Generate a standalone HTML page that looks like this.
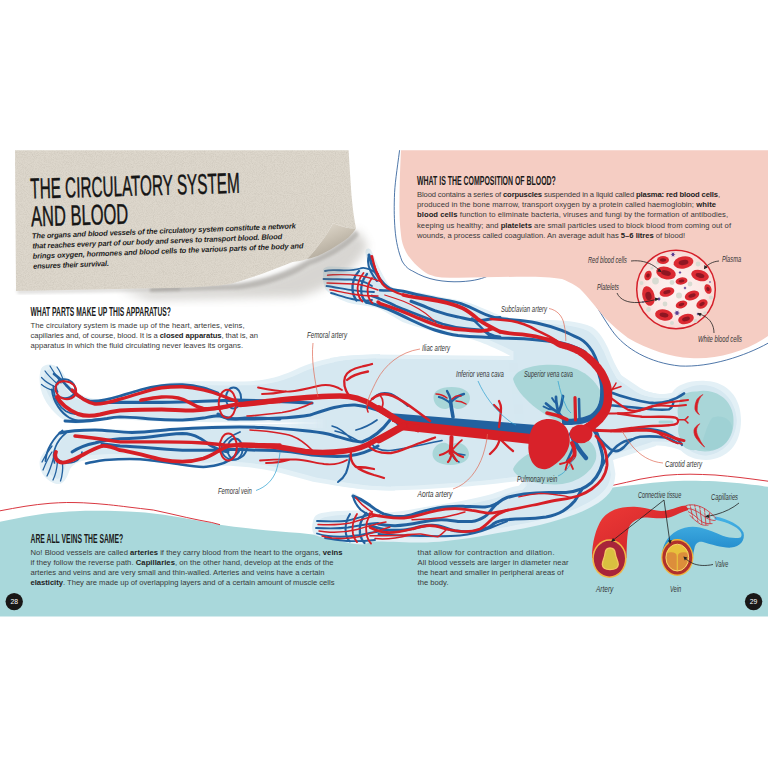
<!DOCTYPE html>
<html><head><meta charset="utf-8"><title>The Circulatory System and Blood</title>
<style>
html,body{margin:0;padding:0;background:#fff;}
body{width:768px;height:768px;overflow:hidden;position:relative;font-family:"Liberation Sans",sans-serif;}
svg{position:absolute;left:0;top:0;display:block;}
text{font-family:"Liberation Sans",sans-serif;}
.bt{font-size:7.65px;fill:#3a3a3a;}
.bt tspan.b{font-weight:bold;fill:#1d1d1d;}
.hd{font-size:13px;fill:#1a1a1a;font-weight:bold;}
.lb{font-size:8.5px;fill:#333;font-style:italic;}
.ar{fill:none;stroke:#d61f26;stroke-linecap:round;stroke-linejoin:round;}
.ve{fill:none;stroke:#22619f;stroke-linecap:round;stroke-linejoin:round;}
</style></head><body>
<svg width="768" height="768" viewBox="0 0 768 768">
<defs>
<filter id="grain" x="0" y="0" width="100%" height="100%"><feTurbulence type="fractalNoise" baseFrequency="1.1" numOctaves="2" seed="7" result="n"/><feColorMatrix type="matrix" values="0 0 0 0 0.25  0 0 0 0 0.22  0 0 0 0 0.18  0 0 0 -1.5 0.95"/><feComposite in2="SourceGraphic" operator="in"/></filter>
<filter id="blur6"><feGaussianBlur stdDeviation="5"/></filter>
<filter id="blur2"><feGaussianBlur stdDeviation="1.6"/></filter>
<linearGradient id="curl" x1="0.2" y1="0" x2="0.8" y2="1"><stop offset="0" stop-color="#e2dcd1"/><stop offset="0.4" stop-color="#cbc3b5"/><stop offset="1" stop-color="#a39b8d"/></linearGradient>
</defs>
<rect width="768" height="768" fill="#fff"/>
<!-- pink blob -->
<path d="M399.6,150.2 C397,170 394.6,185 394.4,197.5 C394,210 394.3,220 395,229 C396,242 398.5,252 402,261 C405.5,267 409,269.5 412.5,271 C420,275.5 428,278.5 436,280 C444,281.5 452,282 460,281.7 C475,281 483,278.5 490,275 C530,272 555,273 572,279 C588,286.5 596,308 612,330.5 C625,349 650,363 680,366 C710,367.5 745,356 768,343.2" fill="none" stroke="#2f5f9a" stroke-width="0.85"/>
<path d="M401,150.2 L768,150.2 L768,336 C745,352 715,360 690,358 C672,357.6 648,349.5 628,338 C619,331 612,325 606,319 C600,312 595,306 590,300 C585,294 581,289 576,286 C571,283 566,280.5 562,279 C535,274 480,279 441.7,277.5 C432,276.5 426,273.5 422,270 C417.5,266.5 415,264 412.5,261 C409.5,257.5 407.5,255 406,252 C403,246 401.5,241 401,235 C399.5,222 399.2,210 399.5,200 C399.6,185 400.2,165 401,150.2 Z" fill="#f5cdc3"/>
<!-- teal bottom -->
<path d="M0,521.7 C8,520 17,518.3 25,516.7 C33,515.2 42,514 50,513 C58,512.1 67,511.5 75,511.2 C83,510.9 92,510.7 100,510.8 C110,510.9 120,511.2 128,511.5 C134,511.8 140,512.1 145,512.5 C153,513.3 162,514.5 170,515.8 C178,517.1 187,518.6 195,520 C203,521.5 212,523.2 220,524.7 C229,526.2 239,527.4 248,528.3 C265,530.2 283,531.8 300,533 L317,535 L400,530 L500,515 L570,498 L607,488.5 L612.7,487.5 C622,486.2 631,485.2 640,484.2 C648,483.2 657,482.3 665,481.7 C673,481.2 682,480.8 690,480.8 C698,480.8 707,481 715,481.3 C723,481.8 732,482.5 740,483.3 C749,484.3 759,485.5 768,486.7 L768,616.4 L0,616.4 Z" fill="#a9d8db"/>
<path d="M0,510.8 C8,509.2 17,507.7 25,506.3 C33,505 42,504 50,503.3 C56,502.9 61,502.6 66.7,502.5 C72,502.5 78,502.6 83.3,502.8 C92,503.2 100,503.9 108.3,504.7 C115,505.4 122,506.2 128,507 C136,508 145,509 153.3,510 C164,512.3 176,515 186.7,517.5 C195,519.3 203,521 211.7,522.5 L220,524.7" fill="none" stroke="#d5202a" stroke-width="0.9"/>
<path d="M612.7,485.4 C622,483.4 631,481.2 640,479.2 C648,477.7 657,476.3 665,475.3 C673,474.6 682,474.2 690,474.2 C698,474.3 707,474.6 715,475 C723,475.7 732,476.6 740,477.5 C749,478.6 759,479.9 768,481.2" fill="none" stroke="#d5202a" stroke-width="0.9"/>
<!-- body silhouette -->
<defs><g id="bodyShape">
<!-- upper leg + foot -->
<path d="M41,369 C44,363 56,362 63,373 C68,382 72,389 80,394 C90,400 100,400 112,397 C130,392 150,385 175,382 C200,380 240,383 262,380 C280,377 290,372 300,367.5 C315,361 330,358 345,356 L380,354 L380,425 L325,423.5 C300,422.5 250,423 212,422.5 C190,422 165,422 145,421 C130,420 118,419 107,419.5 C95,420 88,422 82,423 C75,425 68,423 60,417.5 C52,411 47,404 44,398 C40,390 38,378 41,369 Z"/>
<!-- lower leg + foot -->
<path d="M62,430 C75,429 85,429 95,429 C110,429 130,430.5 145,430 C170,429 190,426 212,425 C250,424 300,424 325,423 L395,423 L395,490.5 C375,490.5 360,489.5 345,487 C333,485 323,483.5 313,481.7 C298,478 285,473.5 272,471 C257,468 243,466.5 230,465.8 C222,465.6 217,466.5 212,466.8 C195,467.5 175,465 157,462.5 C140,460 130,458 120,458 C105,458 92,459 82,461 C75,463 72,466 70,469 C68,475 66,480 62,483 C57,486 50,482 45,477 C40,472 38,463 41,457 C44,451 49,447 52,444 C56,440 58,434 62,430 Z"/>
<!-- torso -->
<path d="M330,358 C345,355 360,354.5 375,354.5 L512,356 L600,340 L621,375 L644,390.6 L656,393.7 L656,446 L613,460 L609,487 L517,481 C512,482 508,482 505,482.5 C485,485 468,486.5 450,487.5 C430,489 410,490 390,490.5 C370,490.5 350,488 330,484 Z"/>
<!-- upper arm + hand -->
<path d="M323,272 C322,268 326,266 332,266.5 L369.5,268.3 C368,263 366,257 365.4,252.5 C365.4,248.3 369,247.3 371.2,250.5 C375,258 379,268 384,277 C386,281 388,284 390,286 C398,291 415,291 432,295 C445,298 455,299 466,302 C480,306 490,312 502,316 C515,320 530,320.5 545,320 C560,320 580,321 592,327 C600,332 604,340 608,348 C612,358 616,367 621,375 C624,378.5 628,381 631.7,383.3 C636,386.5 640,389 644,390.6 C648,392 652,393.2 656.7,393.75 L656.7,420 L520,420 L512,357 C500,350 490,346 480,342 C470,338 460,337 450,335 C435,332 420,328 402.5,322 C395,318 385,311 377.5,308 C365,305 355,305 347.5,302.5 C338,299 330,294 326,290 C323,285 323,278 323,272 Z"/>
<!-- lower arm + hand -->
<path d="M314,518 C316,514 320,513 325,512.5 C335,511 345,510.3 358,510.6 C361,510.7 363,510.2 363,509 C359.5,505 354.5,500 351.5,496 C350.5,493.3 353.2,492.2 356,494.3 C361,499 368,505.5 374,509.5 C377,511.5 380,512.3 382.5,512.5 C395,512.5 410,510 425,507 C450,503 475,499 492,494 C502,490.5 510,487 518.8,485.8 L560,440 L650,440 C640,446 625,452 613,460 C614,465 615,470 615.4,474 C615,480 614,485 612,489 C609,494.5 604,499 598.5,502.7 C591,507.5 583,511.5 574.7,514.6 C564,518.5 552,522 540.8,524.7 C530,527.3 518,529.5 507,531.5 C495,533.6 482,536 470,538 C455,540 437,542.5 420.8,542.6 C405,542.6 385,541 372,541.5 C368,543 365,544.5 362.5,544.5 C352,544 345,542 337.5,540.5 C328,539 320,537 314.5,535 C311,531 312,523 314,518 Z"/>
<!-- neck + head -->
<path d="M640,388 C646,391.5 652,393.5 660,394 C665,394 668,393.5 672,392.7 C677,384.5 690,380 706,381 C728,382 741,398 741,420 C741,444 728,459 706,460 C695,460 686,456 681,450.5 C672,446 660,445 651,445.5 L640,448 Z"/>
</g><filter id="erode" x="-2%" y="-2%" width="104%" height="104%"><feMorphology operator="erode" radius="4.2"/><feGaussianBlur stdDeviation="0.7"/></filter></defs>
<use href="#bodyShape" fill="#e3f0f6"/>
<g filter="url(#erode)"><use href="#bodyShape" fill="#d6e8f1"/></g>
<!-- gap between legs -->
<path d="M62,429.5 C75,428 95,428 145,429 C190,428 212,424.5 250,423.5 L325,422.8 C250,422.6 200,422.8 145,421.5 C120,420.5 100,420 82,423.5 C74,426 68,428 62,429.5 Z" fill="#fff"/>
<!-- organs -->
<g fill="#a9d6d8">
<path d="M513,379 C516,368 540,362 566,366 C588,370 604,388 603,404 C602,414 596,420 588,421.5 L560,422 C545,416 518,398 513,379 Z"/>
<path d="M513,469 C515,477 530,484 555,484.5 C575,484.5 592,473 596,459 C597.5,451 594,444 588,440 L560,440 C545,446 520,454 513,469 Z"/>
<path d="M433.5,398 C433,391 440,387 451.5,387 C463,387 470.5,391.5 470,398.5 C469.5,405 463,409.5 457,409 C454.5,408.8 453.5,406.5 451.5,406.5 C449.5,406.5 448.5,408.8 446,409 C440,409.5 434,405 433.5,398 Z"/>
<path d="M432.5,453.5 C432,460 439,465 450.5,465 C462,465 469.5,460 469,453.5 C468.5,447 462,442.2 456,442.8 C453.5,443 452.5,445.3 450.5,445.3 C448.5,445.3 447.5,443 445,442.8 C439,442.2 433,447 432.5,453.5 Z"/>
<path d="M679,404 C678,396 686,391 697,391.5 C704,390 714,391 721,396 C729,401 734,411 733.5,421 C734,432 729,442 721,447 C713,452 703,452.5 696,450 C687,451 680,446 680,438 C677,432 678,426 680,421 C677,415 677,409 679,404 Z"/>
<rect x="658.5" y="420.4" width="15" height="3.2" rx="1.6"/>
</g>
<path id="brainDark" d="M712,418 C720,414 730,418 732,426 C733,434 727,444 719,448 C712,451 704,451 700,447 C704,440 706,426 712,418 Z" fill="#98cdd1" opacity="0.55"/>
<!-- ===== veins (blue) first ===== -->
<g class="ve">
<!-- vena cava -->
<path d="M385.5,412.8 L540,425.3 L540,437 L398,426 Z" fill="#22619f" stroke="none"/>
<!-- iliac veins -->
<path d="M388,414 C378,410 368,406 355,405 C340,404.5 325,410 310,415 C295,418 255,419.5 237,419 C228,418.5 222,417 218,414" stroke-width="2.99"/>
<path d="M390,420 C384,428 376,437 362,442 C352,442 340,437 328,434 C312,430.5 290,429 262,427.5 C245,426.5 225,427 212,427.5 C195,428 182,429 170,429.5 C155,431 145,432.5 132,432.5 C118,432 105,430 95,430 C80,430 68,431 60,433" stroke-width="2.99"/>
<!-- upper leg veins -->
<path d="M312,403 C290,402 260,400.5 236.7,400.2 C225,400.6 214,401 203.3,401.25 C190,401.8 175,402.3 161.7,402.3 C148,402.3 134,402.3 120,402.3 C110,402.4 100,402.5 92,402.5" stroke-width="3.2"/>
<path d="M218,393 C213,391 208,389 203.3,387.7 C196,385.8 189,384.8 182.5,384.6 C175,384.5 168,384.8 161.7,385.6 C154,386.6 147,388 140.8,389.8 C133,392 126,394.2 120,396 C110,399 100,401.8 90,401 C80,399 72,392 66,385 C62,380 58,377 54,374" stroke-width="2.7"/>
<path d="M65,421 C80,422.5 95,420.5 107,418.5 C112,417.5 116,417 120,416.9 C131,417 141,418.2 151.25,419 C161,419.7 172,420.2 182.5,420 C190,419.7 197,419 203.3,418 C208,417.2 213,416 218,415.8 C222,416 225,418 228.3,419 C234,419.6 240,418.3 245,418 C256,417.8 268,418.5 280,419" stroke-width="2.9"/>
<ellipse cx="233.5" cy="398" rx="7.6" ry="10.5" stroke-width="1.9"/>
<!-- lower leg veins -->
<path d="M378,446 C368,452 358,455 348,456 C335,457 322,456 312,455 C300,453 288,451 275,450.5 C262,450.5 250,450 236.7,449.2 C229,449.6 221,450.2 213.75,450.2 C203,450.4 192,450.4 182.5,450.2 C172,449.8 161,449 151.25,448 C141,447.2 130,446.4 120,446 C113,445.3 107,444.5 102,444" stroke-width="3"/>
<path d="M228,452 C222,451 216,448.5 209.6,445 C206,442 203,439.6 199,437.7 C194,435 188,433.6 182.5,433.5 C172,433.8 161,435.3 151.25,436.7 C141,438 130,438.5 120,438.75 C110,439.5 100,441.5 95,443 C85,445 78,448 72,452" stroke-width="2.9"/>
<path d="M240,432 C230,436 225,440 222,446 C220,452 224,458 232,460 C240,460 246,455 247,448" stroke-width="1.84"/>
<path d="M238.75,451.25 C236.5,454.5 233.5,457.5 230.4,459.6 C226.5,462 222,464 218,464.8 C213,466 208,466.9 203.3,466.9 C194,466.5 185,465 176,463.75 C165,462 150,460 140,459.2 C128,458.5 118,459 105,460 C98,461 92,462 86,463.5" stroke-width="2.5"/>
<ellipse cx="235" cy="449" rx="7.6" ry="10.5" stroke-width="1.9"/>
<path d="M373,399 C377,393 384,391.5 391,394 C397,396.5 402,401 408,406" stroke-width="1.9"/>
<path d="M371,443 C375,449 382,451 390,450.5 C402,449.5 420,445 442,440.5" stroke-width="1.7"/>
<!-- feet veins -->
<path d="M51.9,389.4 C52.5,396 55,402 58.1,406.6 C61,411 65,415 69,417.5 C73,419.8 77,420.6 81.6,420.6 C88,420.4 94,419.6 100.3,419" stroke-width="2"/>
<path d="M53.4,386.25 C53.5,392 55,397.5 57.3,401.9 C59.5,406 62.5,409 66,411.25 C69.5,413.3 73,414.2 76.9,414.4 C82,414.8 87,415 92.5,415" stroke-width="1.8"/>
<path d="M61,383 C57,377 53,371 50,366 M58,384.5 C53,380 48,375.5 45,371 M55.5,387 C50,384.5 45,381.5 41.5,377.5 M54,390.5 C49,389.5 45,387.5 41.5,384.5 M64,382 C62,376 60,371 57,367" stroke-width="1.2"/>
<path d="M57.5,392 C54.5,386 56.5,380 63,379.2 C70,378.6 76,384 75,391 C74,396.5 67,399.5 61,397.5" stroke-width="1.9"/>
<path d="M62.5,430.5 C58,434 54,439 51,444 C48,449 46,455 45.5,461" stroke-width="1.9"/>
<path d="M66,433 C61,437 57.5,442 55.5,447 C53.5,452 53,458 54.5,463" stroke-width="1.7"/>
<path d="M52,446 C48,451 44.5,457 42,462 M52,452 C48,458 45,465 43,470 M53.5,458 C51.5,465 49.5,471 47,476 M57.5,461.5 C57,468 55.5,475 53,480 M62.5,463 C63,469 62.5,475 60.5,481" stroke-width="1.3"/>
<path d="M55,456 C59,462 67,464.5 74,462 C79,460 82,456 82,452" stroke-width="1.7"/>
<!-- upper arm veins -->
<path d="M369,255 C371,264 376,276 384,284 C388,288 392,290 396,290.3 C405,291 412,293.5 419,295 C428,297 435,298.5 442.5,299.7 C450,301 456,302 461,303.6 C468,306 474,309 480,312 C487,315.5 493,317.5 500,318.4 C505,319 509,319.8 513.75,320 C522,320.5 530,321.5 536.7,323 C546,325 554,327.5 561.7,330.4 C568,333 574,336 580,338.75 C585,341.5 589,346 592.5,351.5 C594.5,355 596,358.5 597.5,363" stroke-width="3"/>
<path d="M411,301.25 C419,304 427,307.5 434.7,310.6 C443,313.5 450,315.5 458,316.9 C465,318.5 471,320.2 477,320.8 C482,321 486,320 489.4,319.2 C493,318.3 497,317.8 500,317.6" stroke-width="3"/>
<path d="M372,296 C376,297 378,298 380,299 C386,301.5 391,303.5 395.6,306 C404,309.5 412,312.5 419,315.3 C427,318.5 435,321.5 442.5,324 C451,326.5 459,328 466,328.6 C472,329.3 477,329.6 481.5,330 C485,331 487,332.5 489.4,334 C493,336 497,336.8 500,337" stroke-width="2.8"/>
<path d="M366,302 C374,304 381,306.5 387.8,309 C396,312.5 404,316.5 411,320 C419,323.8 427,327.5 434.7,330 C443,332.5 451,334.5 458,335.6 C466,336.6 474,337 481.5,337 C488,337.2 494,337.6 500,338 C508,338.3 516,338.5 524,338.75 C532,339.3 539,340 545,340.8 C552,341.5 557,342.2 561.7,343 C570,345 578,348 585,352" stroke-width="3"/>
<path d="M472,318.4 C475,321.5 478.5,324.5 481.5,327.8 C484,330.5 487,333.5 489.4,335.6" stroke-width="2.4"/>
<path d="M380,290.3 C386,290.6 391,290.5 396,290.3" stroke-width="2.4"/>
<!-- upper hand veins -->
<path d="M378,274 C372,270 365,266 360,268.5 C352,271.5 340,270 333,270.2 C330,270.3 327,270.6 325,271" stroke-width="1.84"/>
<path d="M372,286 C366,282 358,279.5 350,279.5 C342,279.5 332,279 323.5,279" stroke-width="1.84"/>
<path d="M374,292 C366,291.5 358,291 350,289.8 C342,288.6 334,287 326.5,286" stroke-width="1.84"/>
<path d="M372,300 C366,301 358,300.5 352,299 C345,297.4 338,295 331,293" stroke-width="1.84"/>
<path d="M359,271 C354,276 352,284 352.5,290 C353,295 354.5,298 356.5,300.5" stroke-width="2.3"/>
<path d="M367,274 C362,280 360.5,288 361.5,294 C362.5,298 364,300.5 366.5,302.5" stroke-width="2.3"/>
<path d="M369,255 C367.5,260 368,266 370.5,271 C372.5,275 374.5,278 377,281" stroke-width="2.07"/>
<!-- lower arm veins -->
<path d="M593,428 C597,432 598.5,436 598.5,440 C600,446 602,451 602.7,457 C603,462 602,466.5 600,470.5 C598,475 595,479 591.7,482.4 C588.5,485 585,487.3 581.5,489 C576,491 571,492.2 566,492.5 C560,492.8 555,492.6 549,492.5 C540,492.5 532,493 524,494 C518,494.8 512,496 507,497.6 C503,499 500,501 497,503.5" stroke-width="3.2"/>
<path d="M497,503.5 C493,505.5 489,506.8 485,507 C478,507.3 470,506.5 463,506.2 C454,506 445,506.5 437.8,507.9 C431,509.3 426,510.5 420.8,512 C415,514 409,515.8 404,516.4 C397,517 390,516 383.5,513.8 C378,511.5 374,508.5 370,505.3 C365,501.5 359,498 353,496" stroke-width="3"/>
<path d="M497,503.5 C494,506 492,509 490,511.5 C488,514 487,515.5 485,516.4 C481,519 476,521 471.7,521.4 C467,521.8 462,521.6 458,521.4 C452,520.6 446,519.6 441,519.7 C434,520 427,521 420.8,522.3 C412,524 404,525.5 395.4,525.7 C389,525.8 383,525 378.5,524" stroke-width="3"/>
<path d="M581.5,490 C579,494 577,498 574.7,501 C571,505.5 567,508.5 563,511 C558,514 552,516 546,517 C539,518 531,518.6 524,518.8 C518,519 512,519.3 507,519.7 C501,520.3 497,521.5 494,523.5 C492,525 490.5,526.5 488.6,527.4 C483,529.8 477,531.2 471.7,531.6 C466,531.8 460,531.5 454.7,530.8 C448,529.5 443,526.5 437.8,525.7 C432,525 426,525.5 420.8,526.5 C415,527.8 409,529.5 404,530 C398,530.5 392,530.4 387,530 C381,529 375,527.5 370,525.7" stroke-width="3"/>
<path d="M507,521.4 C501,523.5 495,526 490,528 C480,532 470,534.5 460,535.5 C445,536.8 430,536 412,535.8 C400,535.6 388,534.8 378.5,534" stroke-width="2"/>
<!-- lower hand veins -->
<path d="M385,531 C375,531.5 365,534 356,535.5 C346,537 336,537 328,536 C324,535.5 320,534.5 317,533.5" stroke-width="1.84"/>
<path d="M378,523 C368,523.5 358,526 348,527.5 C338,528.7 328,528.5 316,528" stroke-width="1.84"/>
<path d="M372,514 C364,516 356,519 348,520.5 C338,522 328,521.5 317,521" stroke-width="1.84"/>
<path d="M375,540 C365,541 355,541.5 347,541 C339,540.4 332,539.4 325,538" stroke-width="1.84"/>
<path d="M366,513 C361,519 359,527 360,534 C361,538 362.5,541 364.5,543" stroke-width="2.3"/>
<path d="M350,514 C346,520 345,528 346,534 C346.8,537.5 348,540 350,541.5" stroke-width="2.07"/>
<path d="M353,496 C354,501 357,506 361,510 C364,512.5 367,514 370,515" stroke-width="2.07"/>
<!-- neck veins -->
<path d="M607,391 C612,393 622,396.5 631.7,399 C640,401 647,402.8 652.5,403 C659,403.2 664,402.5 669,401 C675,399 680,396.5 684,393.5" stroke-width="2.77"/>
<path d="M606,405 C614,405.5 623,406.5 631.7,407.3 C640,408 647,409 652.5,409.4 C659,409.8 664,410 669,409.4 C672,408 673,405 673.5,402" stroke-width="2.37"/>
<path d="M627.5,429 C635,428.5 642,428.5 648,428.8 C655,429.3 660,430.3 665,432.3 C670,434.5 674,437 677.5,439.6 C679.5,441.3 681,443 682,445" stroke-width="2.18"/>
<path d="M594,431 C598,438 604,444 610,449 C615,452.5 620,451 624,447 C628,442 632,438 640,436.8 C648,436 658,436.5 665,437.5 C670,438.5 674,440.5 677.5,443" stroke-width="2.57"/>
<path d="M600,470 C604,462 610,452 617,446 C622,442 627,440 632,439.5" stroke-width="2.57"/>
<!-- SVC inside arch + pulmonary veins -->
<path d="M593.4,358.4 L593.7,359.5 L594.1,361.0 L594.5,362.8 L595.0,364.7 L595.5,366.8 L596.0,368.8 L596.4,370.7 L596.9,372.4 L597.3,374.0 L597.7,375.4 L598.0,376.7 L598.4,378.0 L598.8,379.3 L599.1,380.5 L599.3,381.7 L599.5,382.9 L599.7,384.1 L599.9,385.4 L600.0,386.7 L600.1,388.0 L600.1,389.2 L600.1,390.5 L600.1,391.8 L600.1,393.0 L600.0,394.3 L600.0,395.5 L599.9,396.7 L599.7,398.0 L599.6,399.1 L599.4,400.3 L599.1,401.3 L598.9,402.4 L598.6,403.4 L598.2,404.3 L597.9,405.2 L597.5,406.1 L597.1,406.9 L596.6,407.7 L596.1,408.5 L595.6,409.3 L594.9,410.1 L594.3,410.9 L593.6,411.6 L592.9,412.3 L592.2,413.0 L591.4,413.6 L590.6,414.2 L589.6,414.7 L588.4,415.3 L587.1,415.8 L585.7,416.3 L584.2,416.8 L582.6,417.2 L580.9,417.6 L579.2,417.9 L577.6,418.2 L575.7,418.5 L573.6,418.6 L571.4,418.8 L569.1,418.8 L566.9,418.9 L564.9,418.9 L563.2,419.0 L561.9,419.0 L562.1,425.0 L563.3,425.0 L565.0,425.0 L567.0,425.0 L569.3,424.9 L571.6,424.9 L574.0,424.8 L576.3,424.6 L578.4,424.4 L580.4,424.0 L582.3,423.7 L584.1,423.2 L585.9,422.8 L587.7,422.2 L589.3,421.6 L590.9,421.0 L592.4,420.3 L593.8,419.5 L595.1,418.6 L596.2,417.7 L597.3,416.7 L598.2,415.7 L599.0,414.7 L599.7,413.7 L600.4,412.7 L601.1,411.7 L601.7,410.6 L602.3,409.5 L602.8,408.3 L603.2,407.2 L603.5,406.0 L603.9,404.8 L604.1,403.6 L604.4,402.3 L604.5,401.0 L604.6,399.7 L604.7,398.4 L604.8,397.0 L604.8,395.7 L604.7,394.3 L604.7,393.0 L604.6,391.7 L604.6,390.3 L604.5,389.0 L604.3,387.6 L604.2,386.2 L604.0,384.9 L603.7,383.5 L603.5,382.1 L603.1,380.8 L602.8,379.5 L602.4,378.2 L601.9,376.9 L601.5,375.6 L601.0,374.4 L600.6,373.0 L600.1,371.6 L599.7,369.9 L599.2,368.0 L598.7,366.0 L598.1,364.0 L597.7,362.0 L597.2,360.2 L596.8,358.7 L596.6,357.6 Z" fill="#22619f" stroke="none"/>
<path d="M568,421.5 C563,419 560,416 558.5,413" stroke-width="3.6"/>
<path d="M558.5,413 C554,410 550,407 546,403.5 M558.5,413 C557,407 556,402 556,397 M558.5,413 C561,407 562.5,401 563,396" stroke-width="2.76"/>
<path d="M553,409.5 C550,409.5 546.5,408.5 543.5,406.5 M557,404 C554.5,402 553,400 552,398" stroke-width="1.84"/>
<path d="M579.5,419 L579,399" stroke-width="2.53"/>
<path d="M571,434 C574,442 579,450 586,458" stroke-width="4.4"/>
<path d="M573,448 C571,453 569,457 567,461" stroke-width="2.3"/>
<!-- kidney veins -->
<path d="M453,417 C452,411 451,406 450.5,401" stroke-width="3.6"/>
<path d="M451,404 C447,400 443,398 439,397 M451,402 C455,398 459,395 464,394 M451,401 C450,397 449,394 447,391" stroke-width="2.3"/>
<path d="M453,452 C457,454 461,455 465,455 M452,455 C454,459 456,461 459,462" stroke-width="1.49"/>
<!-- thigh small veins -->
<path d="M350,457 C349,463 348,468 346,473 C344,477 341,480 338,482" stroke-width="2.07"/>
<path d="M360,442 C350,436 342,432 335,431 M352,440 C346,433 340,428 332,426" stroke-width="1.49"/>
<path d="M377,420 C370,425 364,428 356,430" stroke-width="1.72"/>
</g>
<!-- ===== arteries (red) ===== -->
<g class="ar">
<!-- aorta -->
<path d="M400,425 L540,440" stroke-width="10" stroke-linecap="butt"/>
<path d="M420,425 L392,421 L418,432 Z" fill="#d61f26" stroke-width="1"/>
<path d="M404,424.5 C396,419.5 388,414 379,408.5" stroke-width="6.6"/>
<path d="M404,426 C396,430.5 388,435.5 379,440" stroke-width="6.6"/>
<!-- upper femoral -->
<path d="M404,423 C392,418 382,411 372,405 C362,398.5 352,396 340,396 C320,396 300,398 280,400 C262,402 250,404 240,404.5" stroke-width="5.4"/>
<path d="M280,401.25 C265,402.2 250,403.4 236.7,404.4 C229,405.8 221,407.5 213.75,408.5 C207,409.6 200,410.3 193,410.6 C183,410.6 172,409.8 161.7,409.6 C148,409.6 134,410 120,410.6 C112,411.6 106,413 100,414.5 C92,416.3 85,416.5 78,414 C68,410 60,403 57,397" stroke-width="4"/>
<path d="M236.7,401.25 C231,399.2 225,397 220,395 C214,392.6 209,391 203.3,389.8 C196,388 189,386.9 182.5,386.7 C175,386.6 168,387 161.7,387.7 C154,388.8 147,391 140.8,393 C133,395.4 126,397.5 120,399.2 C112,401.5 103,404.5 95,404 C85,402 78,396 72,390" stroke-width="3.4"/>
<path d="M228.3,406.5 C223,408 218,408.6 213.75,408.5 C210,408.6 206,408.8 203.3,408.5 C198,407.4 194,405.3 190.8,403.3 C187,401 183,399 178.3,398 C172,396.8 167,396.6 161.7,397 C154,397.6 147,399 140.8,400.2" stroke-width="3.4"/>
<path d="M55.8,391 C54.5,384.5 58.5,380.8 65,381.2 C72,381.8 77,386.5 76,392.5 C75,398 69,400.2 63,398.6 C60,397.8 57.5,395.5 55.8,391" stroke-width="2.1"/>
<ellipse cx="227.3" cy="403.75" rx="8.6" ry="14" stroke-width="2"/>
<path d="M349,396 C345,390 343,383 345,377 C347,371 355,368 362,366.5 C366,365.5 369,365 372,364 M347,380 C352,375 360,373 368,371.5" stroke-width="2.3"/>
<path d="M342,390 C334,385 326,384 318,386 C308,388.5 298,391 290,391.5 C280,392 270,390 258,387.5 M286,391.5 C278,393 270,394 262,394" stroke-width="1.84"/>
<path d="M312,403 C302,408 292,411 282,412.5 C270,414 258,415.5 247,416" stroke-width="1.72"/>
<!-- lower femoral -->
<path d="M404,425 C394,430 384,436 375,440.5 C365,447 355,450 345,451 C330,453 318,453 305,451.5 C290,449 280,446.5 270,446 C258,445.5 248,445 240,445" stroke-width="5.4"/>
<path d="M240,445 C236,445 232,445.5 228.3,446 C224,447.6 221,449.5 218,451.25 C213,454.4 208,457 203.3,458.5 C196,460.6 189,461.6 182.5,461.7 C175,461.6 168,460.8 161.7,459.6 C154,458 147,456 140.8,454.4 C133,452.6 126,451 120,450.2 C112,447 106,445.5 102,446 C95,448 88,452 82.5,455 C75,459 68,463 62,462.5 C56,462 54,456 56,452" stroke-width="3.8"/>
<path d="M280,445 C262,445.2 242,445.3 224,445 C217,444.2 210,443.4 203.3,443 C190,442.4 175,441.9 161.7,441.9 C148,441.9 134,441.9 120,441.9 C115,441.6 111,440.6 107,440 C95,438 85,437 75,436" stroke-width="3.4"/>
<ellipse cx="228.3" cy="447" rx="8.6" ry="13.5" stroke-width="2"/>
<path d="M351,451 C350,457 351,462 355,466 C360,470 367,473 374,475 C378,476 381,477 384,478 M356,467 C362,467 368,467.5 374,469" stroke-width="2.3"/>
<path d="M347,460 C340,464 332,465 324,464 C314,462.5 305,460 296,459.5 C284,459 272,459.5 260,460.5 M290,459.5 C282,462 274,463 266,463" stroke-width="1.84"/>
<path d="M312,450 C306,444 300,439 292,436 C280,432 265,431 250,430" stroke-width="1.61"/>
<!-- iliac loops -->
<path d="M372,399 C378,394 386,393 393,396 C402,400 410,406 418,412 C422,415 426,418 430,421" stroke-width="2.53"/>
<path d="M372,399 C368,403 366,408 368,412 M380,395 C384,400 384,406 380,410" stroke-width="1.61"/>
<path d="M369,446.5 C374,452 382,453.5 391,453 C400,452 408,447 420,443 C426,441 431,439 435,437.5" stroke-width="2.3"/>
<path d="M462,440 C458,443 455,447 452,450" stroke-width="1.6"/>
<!-- renal & mesenteric -->
<path d="M451.5,437 C451.5,443 451,448 450.5,453" stroke-width="4"/>
<path d="M452,448 C448,452 444,454 440,455 M452,450 C456,454 459,456 463,457 M452,453 C451,457 450,460 448,462 M452,453 C454,457 455,459 457,461" stroke-width="2.3"/>
<path d="M447,398 C443,395 440,394 436,394 M452,399 C455,396 458,395 461,396 M456,401 C460,401 463,402 466,404" stroke-width="1.49"/>
<path d="M499,427 C500,420 501,413 501,408 C501,405 500,403 499,401 M501,412 C498,409 496,407 494,405" stroke-width="2.3"/>
<path d="M500,438 C499,443 497,447 494,450 C492,452 491,453 490,454 M501,440 C505,444 509,448 513,451" stroke-width="2.3"/>
<!-- aortic arch + subclavian (upper arm) -->
<path d="M545.4,340.9 L546.0,341.2 L546.9,341.5 L547.8,341.9 L548.9,342.3 L550.1,342.8 L551.1,343.3 L552.2,343.7 L553.0,344.1 L553.7,344.5 L554.3,344.8 L554.8,345.2 L555.4,345.6 L556.1,346.0 L556.9,346.5 L557.9,346.9 L558.9,347.4 L560.1,347.9 L561.4,348.3 L562.7,348.7 L564.1,349.0 L565.4,349.4 L566.8,349.8 L568.0,350.2 L569.3,350.7 L570.5,351.2 L571.8,351.7 L573.0,352.2 L574.2,352.8 L575.4,353.4 L576.6,354.0 L577.8,354.6 L578.9,355.4 L580.1,356.2 L581.3,357.1 L582.5,358.1 L583.8,359.1 L585.0,360.2 L586.3,361.3 L587.4,362.4 L588.6,363.4 L589.7,364.5 L590.7,365.6 L591.8,366.7 L592.8,367.9 L593.8,369.0 L594.7,370.1 L595.5,371.2 L596.4,372.3 L597.1,373.4 L597.8,374.5 L598.4,375.6 L599.0,376.7 L599.6,377.8 L600.2,378.9 L600.7,379.9 L601.1,381.0 L601.6,382.0 L602.0,383.0 L602.3,383.8 L602.6,384.6 L602.8,385.4 L603.0,386.3 L603.2,387.2 L603.3,388.3 L603.5,389.6 L603.6,390.9 L603.7,392.4 L603.8,393.9 L603.8,395.5 L603.8,397.0 L603.7,398.4 L603.6,399.7 L603.5,400.9 L603.3,402.1 L603.1,403.2 L602.8,404.2 L602.5,405.3 L602.2,406.2 L601.8,407.2 L601.4,408.1 L600.9,409.0 L600.4,409.9 L599.8,410.8 L599.1,411.7 L598.4,412.6 L597.6,413.5 L596.8,414.4 L596.0,415.3 L595.2,416.2 L594.4,417.0 L593.5,417.8 L592.6,418.6 L591.6,419.4 L590.6,420.1 L589.6,420.9 L588.6,421.7 L587.6,422.4 L586.5,423.1 L585.4,423.9 L584.2,424.6 L583.1,425.3 L582.0,426.0 L581.1,426.5 L580.4,426.9 L585.6,435.1 L586.2,434.7 L587.0,434.1 L588.1,433.5 L589.3,432.8 L590.6,432.0 L591.9,431.1 L593.2,430.2 L594.4,429.3 L595.5,428.5 L596.6,427.6 L597.7,426.7 L598.8,425.8 L599.8,424.8 L600.9,423.8 L602.0,422.8 L603.0,421.7 L603.9,420.6 L604.8,419.5 L605.7,418.3 L606.6,417.1 L607.4,415.9 L608.2,414.6 L608.9,413.3 L609.6,411.9 L610.2,410.5 L610.6,409.1 L611.0,407.7 L611.4,406.2 L611.7,404.8 L611.9,403.3 L612.1,401.9 L612.2,400.3 L612.3,398.7 L612.3,397.0 L612.2,395.3 L612.2,393.6 L612.0,391.8 L611.9,390.2 L611.7,388.6 L611.5,387.1 L611.2,385.7 L610.9,384.4 L610.6,383.2 L610.2,382.1 L609.8,381.0 L609.4,379.9 L608.9,378.9 L608.5,377.8 L607.9,376.6 L607.4,375.4 L606.7,374.1 L606.1,372.9 L605.4,371.6 L604.6,370.3 L603.8,369.0 L602.8,367.7 L601.9,366.4 L600.9,365.1 L599.8,363.9 L598.7,362.6 L597.6,361.3 L596.4,360.1 L595.2,358.9 L593.9,357.8 L592.6,356.6 L591.3,355.5 L589.9,354.3 L588.5,353.2 L587.1,352.1 L585.6,351.1 L584.2,350.1 L582.7,349.2 L581.2,348.4 L579.8,347.7 L578.4,347.0 L577.0,346.5 L575.6,345.9 L574.2,345.4 L572.9,345.0 L571.5,344.5 L570.1,344.0 L568.6,343.6 L567.2,343.2 L565.8,342.8 L564.4,342.5 L563.2,342.2 L562.0,341.9 L561.1,341.6 L560.2,341.3 L559.5,341.0 L558.9,340.8 L558.3,340.5 L557.6,340.1 L556.8,339.8 L556.0,339.4 L555.0,339.1 L553.9,338.8 L552.8,338.5 L551.5,338.2 L550.3,337.9 L549.2,337.6 L548.1,337.4 L547.2,337.2 L546.6,337.1 Z" fill="#d61f26" stroke="none"/>
<path d="M500,331.7 C508,333.5 516,334 524,334.6 C532,335.6 539,337 546,339" stroke-width="3.8"/>
<path d="M403.4,295 C411,297 419,298 427,299 C434,300 441,301.3 447,302.8 C453,304.3 458,306 462.8,308.3 C468,311 473,315 477,318.4 C481,321.5 485,324 489.4,326.25 C493,328.3 497,330.3 500,331.7" stroke-width="3.8"/>
<path d="M372,256 C374,266 377,276 382,283.5 C385,287 388,289 391,290 C395,292 399,293.8 403.4,295" stroke-width="2.2"/>
<path d="M556,340.5 C549,336 542,332.8 536.7,330.4 C533,328 528,325.6 524,324.2 C520,322.8 516,321.6 511.7,321 C505,320 498,319.3 490.8,319" stroke-width="2.6"/>
<path d="M378,302 C379,303 380,303.4 381,303.8 C386,305.5 391,307 395.6,309 C404,312 412,315.5 419,318.4 C427,321.8 435,325 442.5,327 C451,329 459,329.8 466,330 C472,330.6 477,331 481.5,331 C486,330.8 489.5,329.8 492.5,328.6" stroke-width="3.4"/>
<path d="M384.7,295 C391,297 397,299 403.4,301.25 C409,303.5 414,306 419,309 C424,312 428,315 431.5,318.4 C433.5,320 435,321.5 436,323" stroke-width="1.2"/>
<!-- upper hand arteries -->
<path d="M382,282 C374,279 366,276.5 358,275.5 C350,274.6 340,274.6 333,274.8 C331,274.9 329,275 327.5,275.2" stroke-width="1.38"/>
<path d="M378,290 C370,287 362,284.5 354,284 C346,283.6 336,283.2 327,283" stroke-width="1.38"/>
<path d="M378,296 C370,296 360,295.5 352,294 C345,292.8 337,291 330,289.8" stroke-width="1.38"/>
<path d="M363.5,273 C358.5,279 357,287 358,293 C358.8,297 360,299.5 362.5,301.5" stroke-width="1.84"/>
<path d="M372,278 C368,283 367,290 368,295 C369,299 370.5,301.5 372.5,303" stroke-width="1.84"/>
<path d="M382,282 C378,275 374,266 371,256" stroke-width="1.49"/>
<!-- lower arm arteries -->
<path d="M596,436 C600,440 603,445 605,450 C606.5,455 607.2,460 607,465.4 C606.5,470.5 604.5,475 602,479 C599,483 595.5,486.3 591.7,489 C587.5,492 583,494.2 578,496 C571.5,498 565,499.2 557.8,500 C549,501.5 541,503.5 532.4,505.25 C524,507 515,508.8 507,510.3 C501,511.5 495,512.6 490,513.2 C485,513.2 480,511.6 471.7,510.4 C466,509.4 460,508.6 454.7,508.7 C449,508.9 443,509.4 437.8,510.4 C432,511.6 426,513.2 420.8,514.7 C415,516.4 409,517.8 404,518 C398,518.2 392,517.9 387,517.2 C381,516.4 375,515.2 370,513.8" stroke-width="2.8"/>
<path d="M571.4,497.6 C567,496.3 562,495.3 557.8,495 C552,494.2 546,493.4 540.8,493.4 C533,494 526,495.2 518.8,496.8" stroke-width="1.3"/>
<path d="M507,510.3 C504,511.4 501,513 498.8,513.8 C496,515.5 494,517.3 492,519 C488,523 484,527 480,529 C475,531 469,531.8 463.2,531.6 C457,531.2 451,530 446.3,529 C440,527.3 435,525.5 429.3,525.7 C423,526 417,527.8 412,529 C404,531 395,533 387,532.5 C381,532 375,529.8 370,527.4" stroke-width="2.8"/>
<path d="M465,512 C461,513 458,514 454.7,514.7 C449,516.2 443,517.6 437.8,518 C429,518.8 420,519.5 412,519.7" stroke-width="1.4"/>
<path d="M446,530 C443,533 440,535.5 437.8,536.7 C432,536.5 426,534.5 420.8,534 C415,533.8 409,534.6 404,535 C398,535.5 392,535.8 387,535.8 C381,535.8 375,535.8 370,535.8" stroke-width="1.6"/>
<!-- lower hand arteries -->
<path d="M386,522 C376,523.5 366,527 357,529.5 C348,531.8 338,532.5 330,532.2 C326,532 322,531.5 319,531" stroke-width="1.38"/>
<path d="M390,527 C380,530 370,534 360,536.5 C350,538.6 340,538.8 332,538 C328,537.5 325,537 322,536" stroke-width="1.38"/>
<path d="M380,515 C370,516.5 360,520.5 350,523 C340,525 330,525 318,524.5" stroke-width="1.38"/>
<path d="M372,512 C367,518 365.5,527 366.5,534 C367.5,538.5 369,541.5 371,543.5" stroke-width="1.84"/>
<path d="M357,514 C353,520 352,528 353,534 C353.8,537.5 355,540 357,542" stroke-width="1.84"/>
<path d="M372,512 C366,508.5 360,503 355.5,497.5" stroke-width="1.49"/>
<path d="M410,535 C398,538 386,540 375,538.5" stroke-width="1.49"/>
<!-- neck arteries -->
<path d="M608,396 C614,400 620,405.5 627.5,409.4 C633,411.5 639,411 644,409.4 C650,407.5 655,405.5 661,404 C668,402.3 674,401.5 679.6,401 C683,400.6 686,400.3 688,400" stroke-width="2.18"/>
<path d="M603,413.5 C612,413.6 622,413.5 631.7,412.5 C640,411.3 646,407.5 652.5,406 C660,405 667,405.6 673,406 C678,406 682,405.5 686,405" stroke-width="1.98"/>
<path d="M618,413.5 C626,414.5 634,416 642,416.7 C650,417.2 657,416.8 663,416.7 C668,416.7 672,416.8 675.4,417.7 C678.5,418.5 679,422 677,423.5 C674.5,425 672,425 669,425.2 C663,425.6 658,425.8 652.5,426 C645,426.5 638,427.3 631.7,428 C624,429 617,430 610.8,431" stroke-width="2.37"/>
<path d="M590,430 C600,430.5 610,431 621,431 C629,431 636,430.3 642,430 C648,430 654,430.8 658.75,432.3 C664,434 669,435.8 673,437.5 C677,439 680,440 684,440.6" stroke-width="2.97"/>
<path d="M656,431.5 C661,435 667,439 673,441.7 C676,443 679,443.6 682,443.8" stroke-width="1.58"/>
<path d="M610.8,390.6 C613,388 615,385.5 616,383 M612,389.6 C615,388.5 618,387.5 621,386.5 M606,397 C608,394.5 610,392.5 612,390" stroke-width="1.48"/>
<path d="M677.5,419.8 L684.5,419.8 M684.5,419.8 C686,419 687,418 688,416.7 M684.5,419.8 C686,420.6 687,421.6 688,423" stroke-width="1.48"/>
<path d="M702.5,394.8 C698.5,397 696.5,399.5 696,402 C695,404.5 694.8,407 695,409.4 C695.6,411.5 697.3,413.3 699.4,414.6 C697.5,412.5 697,411 697.2,409 C697.2,406.5 697.5,404 698.3,401.8 C699,399.2 700.5,396.8 702.5,394.8 Z" fill="#d61f26" stroke-width="0.69"/>
<path d="M699.4,424 C696.5,425.5 694.6,427.6 694,430 C693.6,433.5 695,437 697.3,439.6 C699.3,442.4 701.8,445 704.6,447 C702.2,444.3 700.5,441.5 699.3,438.6 C697.6,436 696.6,433.2 696.5,430.3 C696.6,428 697.7,425.8 699.4,424 Z" fill="#d61f26" stroke-width="0.69"/>
<!-- heart -->
<path d="M549,419 C556,419 563,422.5 566.5,428 C570,434 570.5,441 569,446 C567,453 563,458 558,462 C553,466 549,469 545,469.2 C539,469.5 534,466 531.5,461 C528.5,455 528,449 528.5,444 C529,437 530,431 533,426.5 C536.5,421.5 542,419 549,419 Z" fill="#d8222a" stroke="none"/>
<ellipse cx="581" cy="433.8" rx="11.4" ry="9.4" fill="#d8222a" stroke="none"/>
<path d="M547,413 C553,414 560,416 567,419.5" stroke-width="3.6"/>
<path d="M575.5,420 L575,397.5" stroke-width="3.2"/>
<path d="M572,443 C574,447 575,451 574.5,455 C573.5,458 571,460 568.6,461" stroke-width="4"/>
<path d="M568.6,461 C566,462.5 563,463.5 560,464 M568.6,461 C567,464 566,467 565.5,470 M568.6,461 C570.5,463.5 572,466 573,469" stroke-width="1.84"/>
</g>
<!-- paper shadow -->
<path d="M306,262 C322,256 342,244 358,230 L368,246 C354,272 328,290 298,297 L150,300 L120,291 L230,286 C262,282 288,274 306,262 Z" fill="#7d776c" opacity="0.3" filter="url(#blur6)"/>
<path d="M150,287 L238,283.5 C268,279 292,269 308,259.5 C322,255 342,243 356,230 L359,235 C345,250 325,260 310,265 C292,277 268,286 238,289.5 L150,292 Z" fill="#5f5a52" opacity="0.3" filter="url(#blur2)"/>
<path d="M16,289.5 L180,286.5 L180,291 L18,294 Z" fill="#5f5a52" opacity="0.18" filter="url(#blur2)"/>
<!-- paper body -->
<g>
<path d="M15,150.2 L348.6,150.2 C349.5,165 350.8,185 351.7,197.5 C352.6,208 354,218 356,228.5 C348,228.5 340,226.5 333,223 C331,227 329,230 328,232 C325,237 322,241 319.5,244 C316,249 312,254 307,259 C302,261 297,261.5 292.5,262 C286,264.5 279,267.5 272,270 C265,272.8 258,275.5 251,277.5 C244,279.8 237,282.2 230,284 C215,286.3 198,287.3 180,287.8 L16,291 Z" fill="#ddd7cc"/>
<path d="M15,150.2 L348.6,150.2 C349.5,165 350.8,185 351.7,197.5 C352.6,208 354,218 356,228.5 C348,228.5 340,226.5 333,223 C331,227 329,230 328,232 C325,237 322,241 319.5,244 C316,249 312,254 307,259 C302,261 297,261.5 292.5,262 C286,264.5 279,267.5 272,270 C265,272.8 258,275.5 251,277.5 C244,279.8 237,282.2 230,284 C215,286.3 198,287.3 180,287.8 L16,291 Z" fill="#ddd7cc" filter="url(#grain)" opacity="0.2"/>
<!-- curl underside -->
<path d="M333,223 C340,226.5 348,228.5 356,228.5 C352,235 346,240 340,243.5 C334,247.5 328,251 322,254 C317,256.5 312,258 307,259 C312,254 316,249 319.5,244 C322,241 325,237 328,232 C329,230 331,227 333,223 Z" fill="url(#curl)"/>
</g>
<!-- title -->
<g transform="rotate(-1.6 30 197)" fill="#151515" stroke="#151515" stroke-width="0.45" stroke-linejoin="round">
<text x="0" y="0" transform="translate(30.5,198.6) scale(0.54,1)" font-size="28.6" textLength="388" lengthAdjust="spacingAndGlyphs">THE CIRCULATORY SYSTEM</text>
<text x="0" y="0" transform="translate(30.5,226.4) scale(0.54,1)" font-size="28.6" textLength="180" lengthAdjust="spacingAndGlyphs">AND BLOOD</text>
</g>
<g transform="rotate(-2.2 32 238)" font-size="7.45" font-weight="bold" font-style="italic" fill="#1c1c1c">
<text x="32" y="238.5" textLength="264">The organs and blood vessels of the circulatory system constitute a network</text>
<text x="32" y="248.6" textLength="250">that reaches every part of our body and serves to transport blood. Blood</text>
<text x="32" y="258.7" textLength="271">brings oxygen, hormones and blood cells to the various parts of the body and</text>
<text x="32" y="268.8" textLength="76">ensures their survival.</text>
</g>
<!-- headings -->
<g fill="#1a1a1a" font-size="13" font-weight="bold">
<text transform="translate(30.5,315.5) scale(0.53,1)" textLength="265" lengthAdjust="spacingAndGlyphs">WHAT PARTS MAKE UP THIS APPARATUS?</text>
<text transform="translate(417,184.8) scale(0.53,1)" textLength="262" lengthAdjust="spacingAndGlyphs">WHAT IS THE COMPOSITION OF BLOOD?</text>
<text transform="translate(30.5,542.8) scale(0.53,1)" textLength="175" lengthAdjust="spacingAndGlyphs">ARE ALL VEINS THE SAME?</text>
</g>
<!-- body texts -->
<g class="bt">
<text x="30.5" y="328.2" textLength="214">The circulatory system is made up of the heart, arteries, veins,</text>
<text x="30.5" y="338.3" textLength="227.5">capillaries and, of course, blood. It is a <tspan class="b">closed apparatus</tspan>, that is, an</text>
<text x="30.5" y="348.4" textLength="212.5">apparatus in which the fluid circulating never leaves its organs.</text>

<text x="417" y="196.6" textLength="303">Blood contains a series of <tspan class="b">corpuscles</tspan> suspended in a liquid called <tspan class="b">plasma: red blood cells</tspan>,</text>
<text x="417" y="206.9" textLength="299">produced in the bone marrow, transport oxygen by a protein called haemoglobin; <tspan class="b">white</tspan></text>
<text x="417" y="217.2" textLength="311"><tspan class="b">blood cells</tspan> function to eliminate bacteria, viruses and fungi by the formation of antibodies,</text>
<text x="417" y="227.5" textLength="314">keeping us healthy; and <tspan class="b">platelets</tspan> are small particles used to block blood from coming out of</text>
<text x="417" y="237.8" textLength="268">wounds, a process called coagulation. An average adult has <tspan class="b">5–6 litres</tspan> of blood!</text>

<text x="30.5" y="554.6" textLength="312">No! Blood vessels are called <tspan class="b">arteries</tspan> if they carry blood from the heart to the organs, <tspan class="b">veins</tspan></text>
<text x="30.5" y="564.8" textLength="303">if they follow the reverse path. <tspan class="b">Capillaries</tspan>, on the other hand, develop at the ends of the</text>
<text x="30.5" y="575" textLength="294">arteries and veins and are very small and thin-walled. Arteries and veins have a certain</text>
<text x="30.5" y="585.2" textLength="304"><tspan class="b">elasticity</tspan>. They are made up of overlapping layers and of a certain amount of muscle cells</text>

<text x="417.5" y="554.6" textLength="137">that allow for contraction and dilation.</text>
<text x="417.5" y="564.8" textLength="151">All blood vessels are larger in diameter near</text>
<text x="417.5" y="575" textLength="146">the heart and smaller in peripheral areas of</text>
<text x="417.5" y="585.2" textLength="31">the body.</text>
</g>
<!-- page numbers -->
<circle cx="14.2" cy="601.6" r="8.7" fill="#191717"/>
<text x="14.2" y="604.1" font-size="6.8" fill="#fff" text-anchor="middle">28</text>
<circle cx="753.6" cy="601.6" r="8.7" fill="#191717"/>
<text x="753.6" y="604.1" font-size="6.8" fill="#fff" text-anchor="middle">29</text>
<!-- artery / vein illustration -->
<defs>
<linearGradient id="artG" x1="0" y1="0" x2="1" y2="1"><stop offset="0" stop-color="#ee3a36"/><stop offset="1" stop-color="#c91f28"/></linearGradient>
<linearGradient id="veinG" x1="0" y1="0" x2="0" y2="1"><stop offset="0" stop-color="#46b4e6"/><stop offset="1" stop-color="#1e85c8"/></linearGradient>
<radialGradient id="bloodG" cx="0.5" cy="0.5" r="0.5"><stop offset="0" stop-color="#fdf3f2"/><stop offset="0.7" stop-color="#fbe8e5"/><stop offset="1" stop-color="#f8d9d4"/></radialGradient>
</defs>
<!-- artery tube -->
<path d="M592,558 C592,542 596,528 602,519 C609,510 620,506.5 634.5,506.8 C645,507 652,510.5 661,511 C670,511.2 678,506 686,505.6 L688.5,510 C682,512 677,514.5 671,517 C662,519.5 653,517.8 647.4,517.6 C640,517.5 633,520 629,527 C627,534 626.8,545 626.5,558 Z" fill="url(#artG)"/>
<!-- vein tube -->
<path d="M662,556 C662,546 667,536 677.5,530.5 C684,527 692,525.8 700,527.5 C708,529.5 716,533 722.6,535.8 C729,538 736,538.6 740.5,537.5 C742.5,535.5 741.5,532.5 739,530 C734,525 724,521.5 714,519.6 L715.5,516.4 C728,519 740,524.5 743.5,532.5 C745.5,540 740,547 731,547.6 C722,548 712,544.6 703,542 C698,541 695.5,543.5 694.5,548 C693.6,551 693.2,554 693,557 Z" fill="url(#veinG)"/>
<!-- capillaries -->
<g fill="none" stroke="#d5202a" stroke-width="0.75">
<path d="M686,505.6 C692,503.6 700,505.5 706,509.5 C711,513 714,516 716,518.5"/>
<path d="M687,508.5 C692,508.5 698,511.5 703,515.5 C708,519.5 712,520.5 715.5,520.5"/>
<path d="M688,511.5 C692,513.5 696,516.5 700,520.5 C704,523.5 708,524 712.5,523.6"/>
<path d="M689.5,515 C693,518.5 696,521.5 700.5,524.2 C703,525.4 706,525.5 708.6,525"/>
<path d="M690,504.8 L693,518.5 M694.6,504.6 L698,522 M699.6,506 L702,524.6 M704.4,508.6 L706,525 M709.4,512.6 L710,524"/>
</g>
<g fill="none" stroke="#f7f1ee" stroke-width="0.5" opacity="0.8">
<path d="M688,506.8 C694,506.2 700,508.6 705,512.6 C709,515.6 712,517.8 715,519.5 M689,513.4 C693,516 697,519 701,522.4"/>
</g>
<!-- artery cross-section -->
<ellipse cx="609.4" cy="558.6" rx="17.2" ry="19.4" fill="#f2b646"/>
<ellipse cx="609.4" cy="558.6" rx="15.6" ry="17.8" fill="#a8243a"/>
<path d="M610,548 C613.5,548 615,550 615.3,553.5 C615.8,558 618.3,561 618.3,564.5 C618,568.5 614,569.6 610,569.6 C606,569.6 602.5,568.5 602.3,564.5 C602.3,561 604.6,558 605,553.5 C605.3,550 606.5,548 610,548 Z" fill="#d9c040" stroke="#f5c55f" stroke-width="1.3"/>
<!-- vein cross-section -->
<clipPath id="veinClip"><ellipse cx="677.3" cy="557.6" rx="11" ry="13"/></clipPath>
<ellipse cx="677.3" cy="557.5" rx="16.1" ry="18.4" fill="#f0b53c"/>
<ellipse cx="677.3" cy="557.5" rx="14.9" ry="16.9" fill="#b0312c"/>
<ellipse cx="677.3" cy="557.6" rx="11.4" ry="13.4" fill="#e8c13c"/>
<g clip-path="url(#veinClip)" fill="#dc8e3b">
<path d="M665,556.5 C665,553.5 668,552.3 671.5,552.3 C674.5,552.3 676.7,553.4 676.7,556 L676.7,573 L665,573 Z"/>
<path d="M689.6,556.5 C689.6,553.5 686.6,552.3 683.1,552.3 C680.1,552.3 677.9,553.4 677.9,556 L677.9,573 L689.6,573 Z"/>
</g>
<ellipse cx="677.3" cy="557.6" rx="11.4" ry="13.4" fill="none" stroke="#f9d46a" stroke-width="1"/>
<!-- blood circle -->
<circle cx="676" cy="289.5" r="39.3" fill="url(#bloodG)" stroke="#d5202a" stroke-width="1.5"/>
<g fill="#d8dbd2"><circle cx="655.5" cy="281" r="3.4"/><circle cx="679" cy="295.5" r="3"/><circle cx="672" cy="282.5" r="2.4"/><circle cx="698" cy="264" r="2.4"/><circle cx="648.5" cy="309.5" r="2.4"/><circle cx="665" cy="304" r="2.4"/><circle cx="672" cy="323" r="2"/><circle cx="641.5" cy="283" r="2"/><circle cx="658" cy="262.5" r="2"/><circle cx="690" cy="284" r="2.4"/><circle cx="695.5" cy="321" r="2"/><circle cx="711" cy="297.5" r="2"/><circle cx="652" cy="268" r="1.6"/><circle cx="705" cy="313" r="1.8"/></g>
<g transform="rotate(0 663 260)"><ellipse cx="663" cy="260" rx="6" ry="4" fill="#dc2a32"/><ellipse cx="663" cy="260" rx="3.0" ry="1.7" fill="#8e1622"/></g>
<g transform="rotate(-10 683.5 262.5)"><ellipse cx="683.5" cy="262.5" rx="10" ry="6" fill="#dc2a32"/><ellipse cx="683.5" cy="262.5" rx="5.0" ry="2.5" fill="#8e1622"/></g>
<g transform="rotate(15 666 273)"><ellipse cx="666" cy="273" rx="10" ry="6.2" fill="#dc2a32"/><ellipse cx="666" cy="273" rx="5.0" ry="2.6" fill="#8e1622"/></g>
<g transform="rotate(15 700 275.5)"><ellipse cx="700" cy="275.5" rx="9" ry="5.5" fill="#dc2a32"/><ellipse cx="700" cy="275.5" rx="4.5" ry="2.3" fill="#8e1622"/></g>
<g transform="rotate(20 648 275.5)"><ellipse cx="648" cy="275.5" rx="3.5" ry="5" fill="#dc2a32"/><ellipse cx="648" cy="275.5" rx="1.8" ry="2.1" fill="#8e1622"/></g>
<g transform="rotate(-10 681.5 281)"><ellipse cx="681.5" cy="281" rx="6" ry="3.6" fill="#dc2a32"/><ellipse cx="681.5" cy="281" rx="3.0" ry="1.5" fill="#8e1622"/></g>
<g transform="rotate(-20 708 289)"><ellipse cx="708" cy="289" rx="3.4" ry="5" fill="#dc2a32"/><ellipse cx="708" cy="289" rx="1.7" ry="2.1" fill="#8e1622"/></g>
<g transform="rotate(-15 648.5 296)"><ellipse cx="648.5" cy="296" rx="6" ry="10" fill="#dc2a32"/><ellipse cx="648.5" cy="296" rx="3.0" ry="4.2" fill="#8e1622"/></g>
<g transform="rotate(-15 667 292)"><ellipse cx="667" cy="292" rx="7.5" ry="4.6" fill="#dc2a32"/><ellipse cx="667" cy="292" rx="3.8" ry="1.9" fill="#8e1622"/></g>
<g transform="rotate(-20 692 295.5)"><ellipse cx="692" cy="295.5" rx="7.5" ry="4.6" fill="#dc2a32"/><ellipse cx="692" cy="295.5" rx="3.8" ry="1.9" fill="#8e1622"/></g>
<g transform="rotate(-20 681.5 304.5)"><ellipse cx="681.5" cy="304.5" rx="6" ry="3.6" fill="#dc2a32"/><ellipse cx="681.5" cy="304.5" rx="3.0" ry="1.5" fill="#8e1622"/></g>
<g transform="rotate(-30 702 304)"><ellipse cx="702" cy="304" rx="6" ry="4.4" fill="#dc2a32"/><ellipse cx="702" cy="304" rx="3.0" ry="1.8" fill="#8e1622"/></g>
<g transform="rotate(10 664 315)"><ellipse cx="664" cy="315" rx="9" ry="5.5" fill="#dc2a32"/><ellipse cx="664" cy="315" rx="4.5" ry="2.3" fill="#8e1622"/></g>
<g transform="rotate(-15 686 319)"><ellipse cx="686" cy="319" rx="8" ry="5" fill="#dc2a32"/><ellipse cx="686" cy="319" rx="4.0" ry="2.1" fill="#8e1622"/></g>
<g fill="#5c3d92"><polygon points="675.6,254.5 674.0,255.1 674.3,256.8 673.0,255.7 671.7,256.8 672.0,255.1 670.4,254.5 672.0,253.9 671.7,252.2 673.0,253.3 674.3,252.2 674.0,253.9"/><polygon points="681.6,272.5 680.6,272.9 680.8,273.9 680.0,273.2 679.2,273.9 679.4,272.9 678.4,272.5 679.4,272.1 679.2,271.1 680.0,271.8 680.8,271.1 680.6,272.1"/><polygon points="686.6,288.0 685.6,288.4 685.8,289.4 685.0,288.7 684.2,289.4 684.4,288.4 683.4,288.0 684.4,287.6 684.2,286.6 685.0,287.3 685.8,286.6 685.6,287.6"/><polygon points="661.0,299.0 659.8,299.4 660.0,300.7 659.0,299.9 658.0,300.7 658.2,299.4 657.0,299.0 658.2,298.6 658.0,297.3 659.0,298.1 660.0,297.3 659.8,298.6"/><polygon points="680.0,313.0 678.2,313.7 678.5,315.6 677.0,314.4 675.5,315.6 675.8,313.7 674.0,313.0 675.8,312.3 675.5,310.4 677.0,311.6 678.5,310.4 678.2,312.3"/><polygon points="699.6,314.0 698.6,314.4 698.8,315.4 698.0,314.7 697.2,315.4 697.4,314.4 696.4,314.0 697.4,313.6 697.2,312.6 698.0,313.3 698.8,312.6 698.6,313.6"/><polygon points="644.2,302.0 643.5,302.3 643.6,303.0 643.0,302.5 642.4,303.0 642.5,302.3 641.8,302.0 642.5,301.7 642.4,301.0 643.0,301.5 643.6,301.0 643.5,301.7"/><polygon points="711.2,282.0 710.5,282.3 710.6,283.0 710.0,282.5 709.4,283.0 709.5,282.3 708.8,282.0 709.5,281.7 709.4,281.0 710.0,281.5 710.6,281.0 710.5,281.7"/></g>
<!-- labels -->
<g fill="#333" font-size="8.6" font-style="italic">
<text transform="translate(307,337.6) scale(0.72,1)" textLength="55.5" lengthAdjust="spacingAndGlyphs">Femoral artery</text>
<text transform="translate(422,351) scale(0.72,1)" textLength="39" lengthAdjust="spacingAndGlyphs">Iliac artery</text>
<text transform="translate(456,377) scale(0.72,1)" textLength="66.5" lengthAdjust="spacingAndGlyphs">Inferior vena cava</text>
<text transform="translate(524,377) scale(0.72,1)" textLength="68" lengthAdjust="spacingAndGlyphs">Superior vena cava</text>
<text transform="translate(501,311.6) scale(0.72,1)" textLength="64" lengthAdjust="spacingAndGlyphs">Subclavian artery</text>
<text transform="translate(517,481.6) scale(0.72,1)" textLength="56" lengthAdjust="spacingAndGlyphs">Pulmonary vein</text>
<text transform="translate(417.5,496.6) scale(0.72,1)" textLength="48.5" lengthAdjust="spacingAndGlyphs">Aorta artery</text>
<text transform="translate(218,493.6) scale(0.72,1)" textLength="47" lengthAdjust="spacingAndGlyphs">Femoral vein</text>
<text transform="translate(665,466.6) scale(0.72,1)" textLength="51.5" lengthAdjust="spacingAndGlyphs">Carotid artery</text>
<text transform="translate(588,263) scale(0.72,1)" textLength="54" lengthAdjust="spacingAndGlyphs">Red blood cells</text>
<text transform="translate(597,289.6) scale(0.72,1)" textLength="30.5" lengthAdjust="spacingAndGlyphs">Platelets</text>
<text transform="translate(722,262) scale(0.72,1)" textLength="26.5" lengthAdjust="spacingAndGlyphs">Plasma</text>
<text transform="translate(698,342) scale(0.72,1)" textLength="61" lengthAdjust="spacingAndGlyphs">White blood cells</text>
<text transform="translate(638,497.6) scale(0.72,1)" textLength="60" lengthAdjust="spacingAndGlyphs">Connective tissue</text>
<text transform="translate(711,500) scale(0.72,1)" textLength="37.5" lengthAdjust="spacingAndGlyphs">Capillaries</text>
<text transform="translate(715,567) scale(0.72,1)" textLength="18.5" lengthAdjust="spacingAndGlyphs">Valve</text>
<text transform="translate(596,591.6) scale(0.72,1)" textLength="24" lengthAdjust="spacingAndGlyphs">Artery</text>
<text transform="translate(670,591.6) scale(0.72,1)" textLength="15.5" lengthAdjust="spacingAndGlyphs">Vein</text>
</g>
<!-- leader lines -->
<g fill="none" stroke-width="0.7">
<path d="M313,343 C311,360 315,380 318,397" stroke="#e06a55"/>
<path d="M420,349 C400,352 385,365 377,380 C372,390 368,398 367,405" stroke="#e06a55"/>
<path d="M549,308.5 C557,310 562.5,316 564,324 C565.3,330 565.8,336 565.8,341" stroke="#e06a55"/>
<path d="M453,489 C468,484 478,470 483,455 C485.5,447 487,440 487.5,434" stroke="#e06a55"/>
<path d="M663,463 C650,462 640,455 633,447 C628,441 625,436 622,431" stroke="#e06a55"/>
<path d="M256,490.5 C266,487 273,480 276.5,470 C278.5,463 279.5,457 280,452.5" stroke="#2a9fd0"/>
<path d="M478,381 C484,395 495,410 508,420 C511,422.5 514,424 516,425" stroke="#2a9fd0"/>
<path d="M558,381 C560,390 562,398 566,406 C567,409 569,411 571,413" stroke="#2a9fd0"/>
<path d="M558,476 C563,474 568,469 571,463 C572.5,460 573.5,458.5 574.5,457" stroke="#2a9fd0"/>
</g>
<g fill="none" stroke="#222" stroke-width="0.8">
<path d="M631,261 C640,260 648,262 654,266 C657,268 659,270 661,271.5"/>
<path d="M617,293 C620,300 628,303 638,302.5 C646,302 652,300.5 658,299"/>
<path d="M719,261 C713,261.5 708,264 704.5,268.5"/>
<path d="M714,333 C714,325 710,319 704,316 C701.5,314.5 699.5,314 698,313.5"/>
<path d="M739,503 C733,508 725,512 716,514.5 C712,515.5 709,516 706,516.5"/>
<path d="M713,564.5 C706,566 698,566 692,563 C688,561 686,559 684,557"/>
<path d="M664,500 L612,541 M664,500 L670,543"/>
</g>
<g fill="#222">
<path d="M661.5,272 L657.2,271.6 L659.6,268.6 Z"/><path d="M659,298.8 L655.4,301.2 L654.8,297.6 Z"/><path d="M704,269.2 L704.4,265 L707.6,267.4 Z"/><path d="M697.4,313.3 L701.6,313 L700.2,316.6 Z"/>
<path d="M705,516.7 L708.6,514.2 L709.2,518 Z"/><path d="M683.4,556.4 L687.4,557.4 L684.8,560.4 Z"/><path d="M611,541.8 L613,538 L615.6,540.8 Z"/><path d="M670.2,544 L668,540.4 L671.8,540 Z"/>
</g>
</svg>
</body></html>
